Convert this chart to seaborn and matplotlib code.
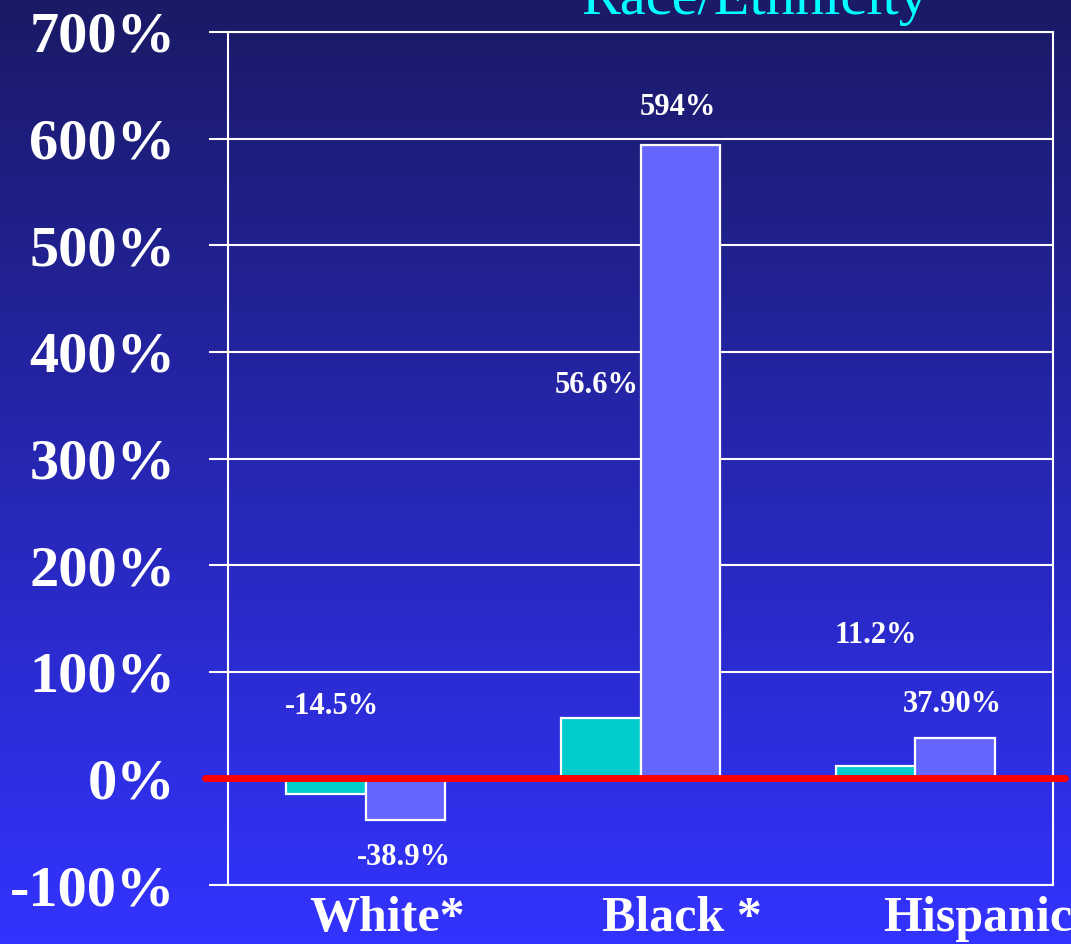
import numpy as np
import pandas as pd
import seaborn as sns
import matplotlib.pyplot as plt

# data
groups = ['White*', 'Black *', 'Hispanic']
series = ['A', 'B']
values_a = [-14.5, 56.6, 11.2]
values_b = [-38.9, 594, 37.9]
label_text = ['-14.5%', '-38.9%', '56.6%', '594%', '11.2%', '37.90%']
yticks = [-100, 0, 100, 200, 300, 400, 500, 600, 700]

# where the value labels sit (data coords)
label_x = [-0.12, 0.14, 0.84, 1.135, 1.855, 2.135]
label_y = [67, -74, 368, 629, 134, 69]
# x label nudges (category units)
xlab_shift = [0.08, 0.15, 0.225]

df = pd.DataFrame({
    'group': groups * 2,
    'series': ['A'] * 3 + ['B'] * 3,
    'value': values_a + values_b,
})

sns.set_style('white')
plt.rcParams['font.family'] = ['Liberation Serif', 'DejaVu Serif']

fig = plt.figure(figsize=(10.71, 9.44), dpi=100)

# gradient background
bg = fig.add_axes([0, 0, 1, 1], zorder=-5)
grad = np.linspace(0, 1, 256).reshape(-1, 1)
top = np.array([26, 26, 102]) / 255
bot = np.array([51, 51, 255]) / 255
img = top + (bot - top) * grad[:, :, None]
bg.imshow(img, aspect='auto', extent=[0, 1, 0, 1], origin='upper')
bg.axis('off')

ax = fig.add_axes([228 / 1071, 59 / 944, 825 / 1071, 853 / 944])
ax.set_facecolor('none')

sns.barplot(data=df, x='group', y='value', hue='series', hue_order=series,
            palette=['#00CCCC', '#6666FF'], width=0.575, gap=0,
            edgecolor='white', linewidth=1.6, saturation=1,
            legend=False, ax=ax, zorder=3)

ax.set_xlim(-0.5, 2.5)
ax.set_ylim(-100, 700)
ax.set_yticks(yticks)
ax.set_yticklabels([f'{t}%' for t in yticks], fontsize=42, fontweight='bold', color='white')
ax.tick_params(axis='y', length=14, width=1.5, color='white', pad=24, direction='out', left=True)
ax.set_xticks([])
ax.set_xlabel('')
ax.set_ylabel('')
ax.grid(axis='y', color='white', linewidth=1.5, zorder=0)
ax.set_axisbelow(True)
for s in ax.spines.values():
    s.set_color('white')
    s.set_linewidth(1.5)
    s.set_visible(True)

# red zero line running past the frame
ax.axhline(0, xmin=-0.028, xmax=1.015, color='#FF0000', linewidth=5, zorder=5, clip_on=False)

for x, y, t in zip(label_x, label_y, label_text):
    ax.text(x, y, t, ha='center', va='center', fontsize=22, fontweight='bold', color='white', zorder=6)

for i, g in enumerate(groups):
    ax.text(i + xlab_shift[i], -143, g, ha='center', va='baseline', fontsize=36,
            fontweight='bold', color='white', clip_on=False)

fig.text(755 / 1071, 1 - 14 / 944, 'Race/Ethnicity', ha='center', va='baseline',
         fontsize=42, color='#00FFFF')

fig.savefig('out.png', dpi=100)
